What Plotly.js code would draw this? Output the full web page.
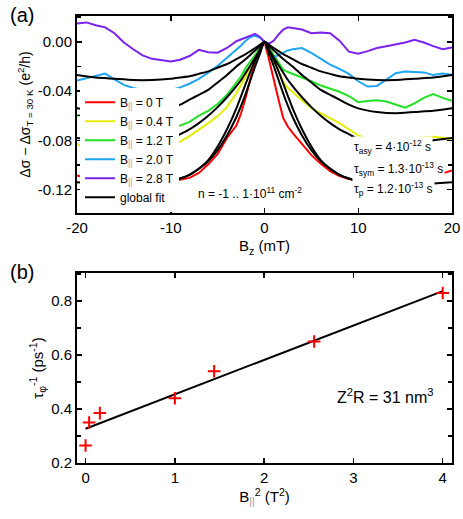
<!DOCTYPE html>
<html>
<head>
<meta charset="utf-8">
<script src="https://cdn.plot.ly/plotly-3.0.1.min.js"></script>
<style>html,body{margin:0;padding:0;background:#fff;}#chart{width:463px;height:519px;}</style>
</head>
<body>
<div id="chart"></div>
<script>
// ---------- Panel (a) data ----------
const bData = [-20,-19,-18,-17,-16,-15,-14,-13,-12,-11,-10,-9,-8,-7,-6,-5,-4,-3,-2.5,-2,-1.5,-1,-0.5,0,0.5,1,1.5,2,2.5,3,4,5,6,7,8,9,10,11,12,13,14,15,16,17,18,19,20];
const dsig0T  = [-0.1085,-0.1105,-0.1095,-0.111,-0.112,-0.113,-0.114,-0.115,-0.115,-0.1147,-0.1135,-0.112,-0.1105,-0.1065,-0.0995,-0.091,-0.078,-0.068,-0.058,-0.045,-0.029,-0.015,-0.006,0,-0.015,-0.032,-0.047,-0.062,-0.069,-0.074,-0.083,-0.092,-0.099,-0.105,-0.109,-0.1115,-0.112,-0.112,-0.112,-0.111,-0.111,-0.110,-0.109,-0.108,-0.107,-0.1068,-0.1045];
const dsig04T = [-0.0828,-0.0875,-0.0885,-0.089,-0.089,-0.089,-0.089,-0.089,-0.0885,-0.088,-0.0845,-0.081,-0.0765,-0.0715,-0.066,-0.0605,-0.053,-0.0415,-0.035,-0.028,-0.020,-0.0125,-0.0055,0,-0.007,-0.015,-0.024,-0.0325,-0.0375,-0.041,-0.0475,-0.054,-0.058,-0.0615,-0.066,-0.071,-0.076,-0.079,-0.080,-0.080,-0.079,-0.078,-0.078,-0.0774,-0.077,-0.0778,-0.079];
const dsig12T = [-0.0598,-0.059,-0.0525,-0.051,-0.054,-0.060,-0.065,-0.069,-0.0705,-0.0705,-0.069,-0.068,-0.065,-0.060,-0.056,-0.0505,-0.043,-0.033,-0.028,-0.021,-0.0155,-0.010,-0.005,0,-0.005,-0.011,-0.017,-0.0225,-0.0245,-0.026,-0.0285,-0.032,-0.0355,-0.0383,-0.0405,-0.044,-0.049,-0.048,-0.0475,-0.0485,-0.051,-0.0535,-0.050,-0.0455,-0.0425,-0.0455,-0.0478];
const dsig20T = [-0.0314,-0.0295,-0.0278,-0.0258,-0.0305,-0.035,-0.0375,-0.0395,-0.041,-0.0415,-0.0395,-0.037,-0.034,-0.030,-0.025,-0.0195,-0.013,-0.0065,-0.003,0.001,0.004,0.005,0.0035,0,-0.008,-0.0125,-0.0105,-0.0085,-0.007,-0.006,-0.005,-0.009,-0.014,-0.0185,-0.022,-0.026,-0.032,-0.0363,-0.0358,-0.031,-0.0255,-0.024,-0.0243,-0.0248,-0.027,-0.0258,-0.0268];
const dsig28T = [0.0148,0.0158,0.0135,0.0118,0.007,-0.0005,-0.006,-0.011,-0.0138,-0.015,-0.016,-0.0145,-0.0115,-0.0065,-0.0085,-0.0088,-0.005,0.0005,0.002,0.004,0.005,0.0065,0.004,0,-0.0015,0.001,0.006,0.010,0.0118,0.0112,0.010,0.007,0.0075,0.007,0.001,-0.008,-0.0097,-0.0075,-0.005,-0.0035,-0.0022,-0.0005,0.0016,-0.0005,-0.0035,-0.006,-0.0045];

// global fit curves (values for |Bz|, symmetric in Bz)
const fitB   = [0,0.5,1,1.5,2,2.5,3,4,5,6,7,8,9,10,12,14,16,18,20];
const fit28T = [0,-0.0025,-0.005,-0.0075,-0.010,-0.012,-0.014,-0.018,-0.021,-0.024,-0.026,-0.028,-0.029,-0.030,-0.031,-0.031,-0.030,-0.029,-0.027];
const fit20T = [0,-0.0035,-0.007,-0.0105,-0.014,-0.017,-0.020,-0.027,-0.033,-0.039,-0.043,-0.047,-0.051,-0.054,-0.057,-0.058,-0.057,-0.056,-0.054];
const fit12T = [0,-0.0065,-0.013,-0.019,-0.025,-0.031,-0.036,-0.045,-0.053,-0.060,-0.066,-0.071,-0.075,-0.079,-0.082,-0.083,-0.082,-0.080,-0.078];
const fit04T = [0,-0.007,-0.015,-0.024,-0.034,-0.044,-0.054,-0.071,-0.085,-0.096,-0.103,-0.108,-0.111,-0.113,null,null,null,null,null];
const fit0T  = [0,-0.010,-0.020,-0.031,-0.042,-0.052,-0.061,-0.076,-0.088,-0.097,-0.103,-0.108,-0.111,-0.113,-0.115,-0.116,-0.116,-0.115,-0.114];

const seriesNames  = ['0 T','0.4 T','1.2 T','2.0 T','2.8 T'];
const seriesColors = ['#ff0000','#e2ee00','#22e022','#1ea6f2','#7a22ee'];

// ---------- Panel (b) data ----------
const bParSq  = [0, 0.04, 0.16, 1, 1.44, 2.56, 4];
const tauInv  = [0.265, 0.35, 0.385, 0.44, 0.54, 0.65, 0.83];
const lineX   = [0, 4];
const lineY   = [0.327, 0.837];

const aXTickVals = [-20,-10,0,10,20];
const aXTickText = ['-20','-10','0','10','20'];
const aYTickVals = [-0.12,-0.08,-0.04,0];
const aYTickText = ['-0.12','-0.08','-0.04','0.00'];
const bXTickVals = [0,1,2,3,4];
const bXTickText = ['0','1','2','3','4'];
const bYTickVals = [0.2,0.4,0.6,0.8];
const bYTickText = ['0.2','0.4','0.6','0.8'];

// ---------- build ----------
const FONT = 'Liberation Sans, Arial, Helvetica, sans-serif';
const par = '<span style="color:#9a9a9a">||</span>';
function mirrorX(h){ return h.slice(1).reverse().map(v=>-v).concat(h); }
function mirrorY(h){ return h.slice(1).reverse().concat(h); }

const dataSeries = [dsig0T, dsig04T, dsig12T, dsig20T, dsig28T];
const traces = [];
dataSeries.forEach((ys,i)=>{
  traces.push({x:bData, y:ys, type:'scatter', mode:'lines', xaxis:'x', yaxis:'y',
    name:'B<sub>'+par+'</sub> = '+seriesNames[i],
    line:{color:seriesColors[i], width:2}});
});
const fits = [fit0T, fit04T, fit12T, fit20T, fit28T];
fits.forEach((ys,i)=>{
  traces.push({x:mirrorX(fitB), y:mirrorY(ys), type:'scatter', mode:'lines', xaxis:'x', yaxis:'y',
    name:'global fit', legendgroup:'fit', showlegend: i===fits.length-1, connectgaps:false,
    line:{color:'#000', width:2, shape:'spline', smoothing:0.6}});
});
traces.push({x:lineX, y:lineY, type:'scatter', mode:'lines', xaxis:'x2', yaxis:'y2',
  showlegend:false, line:{color:'#000', width:2}});
traces.push({x:bParSq, y:tauInv, type:'scatter', mode:'markers', xaxis:'x2', yaxis:'y2',
  showlegend:false, marker:{symbol:'cross-thin', size:9, color:'#ff0000', line:{color:'#ff0000', width:2}}});

const axBase = {showgrid:false, zeroline:false, showline:true, linecolor:'#000', linewidth:2,
  mirror:'ticks', ticks:'inside', ticklen:5, tickwidth:1.5, tickcolor:'#000',
  tickfont:{family:FONT, size:15, color:'#000'}, tickmode:'array'};

const layout = {
  width:463, height:519,
  margin:{l:77, r:11, t:16, b:56},
  paper_bgcolor:'#fff', plot_bgcolor:'#fff',
  font:{family:FONT, color:'#000'},
  showlegend:true, hovermode:false,
  legend:{x:0.008, y:0.562, xanchor:'left', yanchor:'bottom', bgcolor:'#fff', borderwidth:0,
    font:{family:FONT, size:12, color:'#000'}, itemwidth:30, tracegroupgap:0},
  xaxis:Object.assign({}, axBase, {domain:[0,1], anchor:'y', range:[-20,20],
    tickvals:aXTickVals, ticktext:aXTickText,
    title:{text:'B<sub>z</sub> (mT)', font:{family:FONT, size:15}, standoff:6}}),
  yaxis:Object.assign({}, axBase, {domain:[0.5593,1], anchor:'x', range:[-0.139,0.021],
    tickvals:aYTickVals, ticktext:aYTickText,
    minor:{tickmode:'array', tickvals:[-0.14,-0.12,-0.10,-0.08,-0.06,-0.04,-0.02,0,0.02], ticks:'inside', ticklen:4, tickcolor:'#000', tickwidth:1.5},
    title:{text:'Δσ − Δσ<sub>T = 30 K</sub> (e<sup>2</sup>/h)', font:{family:FONT, size:14}, standoff:4}}),
  xaxis2:Object.assign({}, axBase, {domain:[0,1], anchor:'y2', range:[-0.096,4.104],
    tickvals:bXTickVals, ticktext:bXTickText,
    title:{text:'B<sub>'+par+'</sub><sup>2</sup> (T<sup>2</sup>)', font:{family:FONT, size:15}, standoff:6}}),
  yaxis2:Object.assign({}, axBase, {domain:[0,0.425], anchor:'x2', range:[0.2,0.904],
    tickvals:bYTickVals, ticktext:bYTickText,
    minor:{tickmode:'array', tickvals:[0.3,0.5,0.7,0.9], ticks:'inside', ticklen:4, tickcolor:'#000', tickwidth:1.5},
    title:{text:'τ<sub>φ</sub><sup>-1</sup> (ps<sup>-1</sup>)', font:{family:FONT, size:15}, standoff:4}}),
  annotations:[
    {xref:'paper', yref:'paper', x:-0.185, y:1.003, xanchor:'left', yanchor:'middle', showarrow:false,
      text:'(a)', font:{family:FONT, size:20}},
    {xref:'paper', yref:'paper', x:-0.185, y:0.428, xanchor:'left', yanchor:'middle', showarrow:false,
      text:'(b)', font:{family:FONT, size:20}},
    {xref:'x', yref:'y', x:9.35, y:-0.0855, xanchor:'left', yanchor:'middle', showarrow:false, bgcolor:'#fff',
      text:'τ<sub>asy</sub> = 4·10<sup>-12</sup> s', font:{family:FONT, size:12}},
    {xref:'x', yref:'y', x:9.35, y:-0.1036, xanchor:'left', yanchor:'middle', showarrow:false, bgcolor:'#fff',
      text:'τ<sub>sym</sub> = 1.3·10<sup>-13</sup> s', font:{family:FONT, size:12}},
    {xref:'x', yref:'y', x:9.35, y:-0.1198, xanchor:'left', yanchor:'middle', showarrow:false, bgcolor:'#fff',
      text:'τ<sub>p</sub> = 1.2·10<sup>-13</sup> s', font:{family:FONT, size:12}},
    {xref:'x', yref:'y', x:-1.5, y:-0.123, xanchor:'center', yanchor:'middle', showarrow:false,
      text:'n = -1 .. 1·10<sup>11</sup> cm<sup>-2</sup>', font:{family:FONT, size:12}},
    {xref:'x2', yref:'y2', x:3.36, y:0.45, xanchor:'center', yanchor:'middle', showarrow:false,
      text:'Z<sup>2</sup>R = 31 nm<sup>3</sup>', font:{family:FONT, size:16}}
  ]
};

Plotly.newPlot('chart', traces, layout, {displayModeBar:false, staticPlot:true});
</script>
</body>
</html>
